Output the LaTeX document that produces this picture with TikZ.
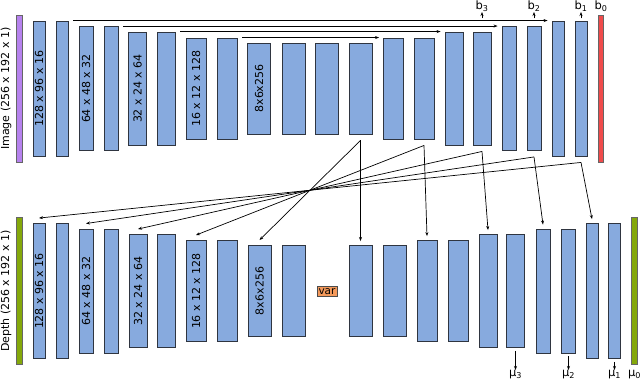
\documentclass[tikz,border=0pt]{standalone}
\usepackage{fontspec}
\setmainfont{DejaVu Sans}
\usetikzlibrary{arrows.meta, positioning, calc}
\definecolor{blkblue}{HTML}{87AADE}
\definecolor{blkedge}{HTML}{2F3540}
\definecolor{inpurple}{HTML}{B682EE}
\definecolor{outred}{HTML}{F04B4B}
\definecolor{dpgreen}{HTML}{84A80A}
\definecolor{varorange}{HTML}{F4995A}

\begin{document}
\begin{tikzpicture}[
    x=1pt, y=-1pt,
    >={Stealth[length=4pt, width=3pt]},
    line width=0.7pt,
    blk/.style={draw=blkedge, fill=blkblue, line width=0.9pt, inner sep=0pt},
    lv1/.style={blk, minimum width=12pt, minimum height=135pt},
    lv2/.style={blk, minimum width=14pt, minimum height=124pt},
    lv3/.style={blk, minimum width=18pt, minimum height=113pt},
    lv4/.style={blk, minimum width=20pt, minimum height=101pt},
    lv5/.style={blk, minimum width=23pt, minimum height=91pt},
    bar/.style={draw=black!60, line width=0.9pt, inner sep=0pt,
      minimum width=5.5pt, minimum height=147pt},
    dimtxt/.style={rotate=90, font=\fontsize{11}{13}\selectfont, inner sep=0pt},
    outtxt/.style={font=\fontsize{11.5}{13}\selectfont, inner sep=0.3pt},
    link/.style={->, line width=0.7pt},
  ]

  % Page frame
  \useasboundingbox (0,0) rectangle (640,382);

  % === Image network (top row) ===
  \node[bar, fill=inpurple] (imgin) at (19.5,88.5) {};
  \node[dimtxt] (imglbl) at (6,88.5) {Image (256 x 192 x 1)};
  \node[lv1] (img1) at (39,88.5) {};
  \node[lv1] (img2) at (62,88.5) {};
  \node[lv2] (img3) at (86,88.5) {};
  \node[lv2] (img4) at (111,88.5) {};
  \node[lv3] (img5) at (137.5,88.5) {};
  \node[lv3] (img6) at (166,88.5) {};
  \node[lv4] (img7) at (196,88.5) {};
  \node[lv4] (img8) at (227,88.5) {};
  \node[lv5] (img9) at (259,88.5) {};
  \node[lv5] (img10) at (293.5,88.5) {};
  \node[lv5] (img11) at (327,88.5) {};
  \node[lv5] (img12) at (360.5,88.5) {};
  \node[lv4] (img13) at (393.5,88.5) {};
  \node[lv4] (img14) at (424,88.5) {};
  \node[lv3] (img15) at (454,88.5) {};
  \node[lv3] (img16) at (482,88.5) {};
  \node[lv2] (img17) at (509,88.5) {};
  \node[lv2] (img18) at (534,88.5) {};
  \node[lv1] (img19) at (558,88.5) {};
  \node[lv1] (img20) at (581,88.5) {};
  \node[bar, fill=outred] (imgout) at (601,88.5) {};

  \node[dimtxt] (img1lbl) at (img1) {128 x 96 x 16};
  \node[dimtxt] (img3lbl) at (img3) {64 x 48 x 32};
  \node[dimtxt] (img5lbl) at (img5) {32 x 24 x 64};
  \node[dimtxt] (img7lbl) at (img7) {16 x 12 x 128};
  \node[dimtxt] (img9lbl) at (img9) {8x6x256};

  % skip connections
  \draw[link] ([xshift=5pt]img2.north east) -- ([xshift=-4pt]img19.north west);
  \draw[link] ([xshift=5pt]img4.north east) -- ([xshift=-4pt]img17.north west);
  \draw[link] ([xshift=5pt]img6.north east) -- ([xshift=-4pt]img15.north west);
  \draw[link] ([xshift=5pt]img8.north east) -- ([xshift=-4pt]img13.north west);

  % outputs b
  \node[outtxt, anchor=south] (lb3) at (img16.north |- 0,12) {b\textsubscript{3}};
  \node[outtxt, anchor=south] (lb2) at (img18.north |- 0,12) {b\textsubscript{2}};
  \node[outtxt, anchor=south] (lb1) at (img20.north |- 0,12) {b\textsubscript{1}};
  \node[outtxt, anchor=south] (lb0) at (imgout.north |- 0,12) {b\textsubscript{0}};
  \coordinate (tb3) at (img16.north |- 0,18.5);
  \coordinate (tb2) at (img18.north |- 0,18.5);
  \coordinate (tb1) at (img20.north |- 0,18.5);
  \draw[link] (tb3) -- (lb3.south);
  \draw[link] (tb2) -- (lb2.south);
  \draw[link] (tb1) -- (lb1.south);

  % === Depth network (bottom row) ===
  \node[bar, fill=dpgreen] (depin) at (19.5,291) {};
  \node[dimtxt] (deplbl) at (6,291) {Depth (256 x 192 x 1)};
  \node[lv1] (dep1) at (39,291) {};
  \node[lv1] (dep2) at (62,291) {};
  \node[lv2] (dep3) at (86,291) {};
  \node[lv2] (dep4) at (111,291) {};
  \node[lv3] (dep5) at (138,291) {};
  \node[lv3] (dep6) at (166,291) {};
  \node[lv4] (dep7) at (196,291) {};
  \node[lv4] (dep8) at (227,291) {};
  \node[lv5] (dep9) at (259.5,291) {};
  \node[lv5] (dep10) at (293.5,291) {};
  \node[draw=black!70, fill=varorange, line width=0.6pt,
        font=\fontsize{10.5}{12}\selectfont, inner xsep=1.5pt, inner ysep=2pt]
    (varbox) at (327,291.5) {var};
  \node[lv5] (dep11) at (360.5,291) {};
  \node[lv5] (dep12) at (394.5,291) {};
  \node[lv4] (dep13) at (427,291) {};
  \node[lv4] (dep14) at (458.5,291) {};
  \node[lv3] (dep15) at (488,291) {};
  \node[lv3] (dep16) at (515.5,291) {};
  \node[lv2] (dep17) at (543,291) {};
  \node[lv2] (dep18) at (568.5,291) {};
  \node[lv1] (dep19) at (592,291) {};
  \node[lv1] (dep20) at (614.5,291) {};
  \node[bar, fill=dpgreen] (depout) at (634.5,291) {};

  \node[dimtxt] (dep1lbl) at (dep1) {128 x 96 x 16};
  \node[dimtxt] (dep3lbl) at (dep3) {64 x 48 x 32};
  \node[dimtxt] (dep5lbl) at (dep5) {32 x 24 x 64};
  \node[dimtxt] (dep7lbl) at (dep7) {16 x 12 x 128};
  \node[dimtxt] (dep9lbl) at (dep9) {8x6x256};

  % outputs mu
  \node[outtxt, anchor=north] (lmu3) at (dep16.south |- 0,370) {μ\textsubscript{3}};
  \node[outtxt, anchor=north] (lmu2) at (dep18.south |- 0,370) {μ\textsubscript{2}};
  \node[outtxt, anchor=north] (lmu1) at (dep20.south |- 0,370) {μ\textsubscript{1}};
  \node[outtxt, anchor=north] (lmu0) at (depout.south |- 0,370) {μ\textsubscript{0}};
  \draw[link] ([yshift=-3pt]dep16.south) -- (lmu3.north);
  \draw[link] ([yshift=-3pt]dep18.south) -- (lmu2.north);
  \draw[link] ([yshift=-3pt]dep20.south) -- (lmu1.north);

  % === Image decoder -> depth network ===
  \coordinate (tap12) at ([yshift=-6pt]img12.south);
  \coordinate (tap14) at ([yshift=-6pt]img14.south);
  \coordinate (tap16) at ([yshift=-6pt]img16.south);
  \coordinate (tap18) at ([yshift=-6pt]img18.south);
  \coordinate (tap20) at ([yshift=-6pt]img20.south);
  \draw[link] (tap12) -- ([yshift=4pt]dep11.north);
  \draw[link] (tap14) -- ([yshift=4pt]dep13.north);
  \draw[link] (tap16) -- ([yshift=4pt]dep15.north);
  \draw[link] (tap18) -- ([yshift=4pt]dep17.north);
  \draw[link] (tap20) -- ([yshift=4pt]dep19.north);
  \draw[link] (tap12) -- ([yshift=5pt]dep9.north);
  \draw[link] (tap14) -- ([yshift=5pt]dep7.north);
  \draw[link] (tap16) -- ([yshift=5pt]dep5.north);
  \draw[link] (tap18) -- ([yshift=5pt]dep3.north);
  \draw[link] (tap20) -- ([yshift=5pt]dep1.north);

\end{tikzpicture}
\end{document}
